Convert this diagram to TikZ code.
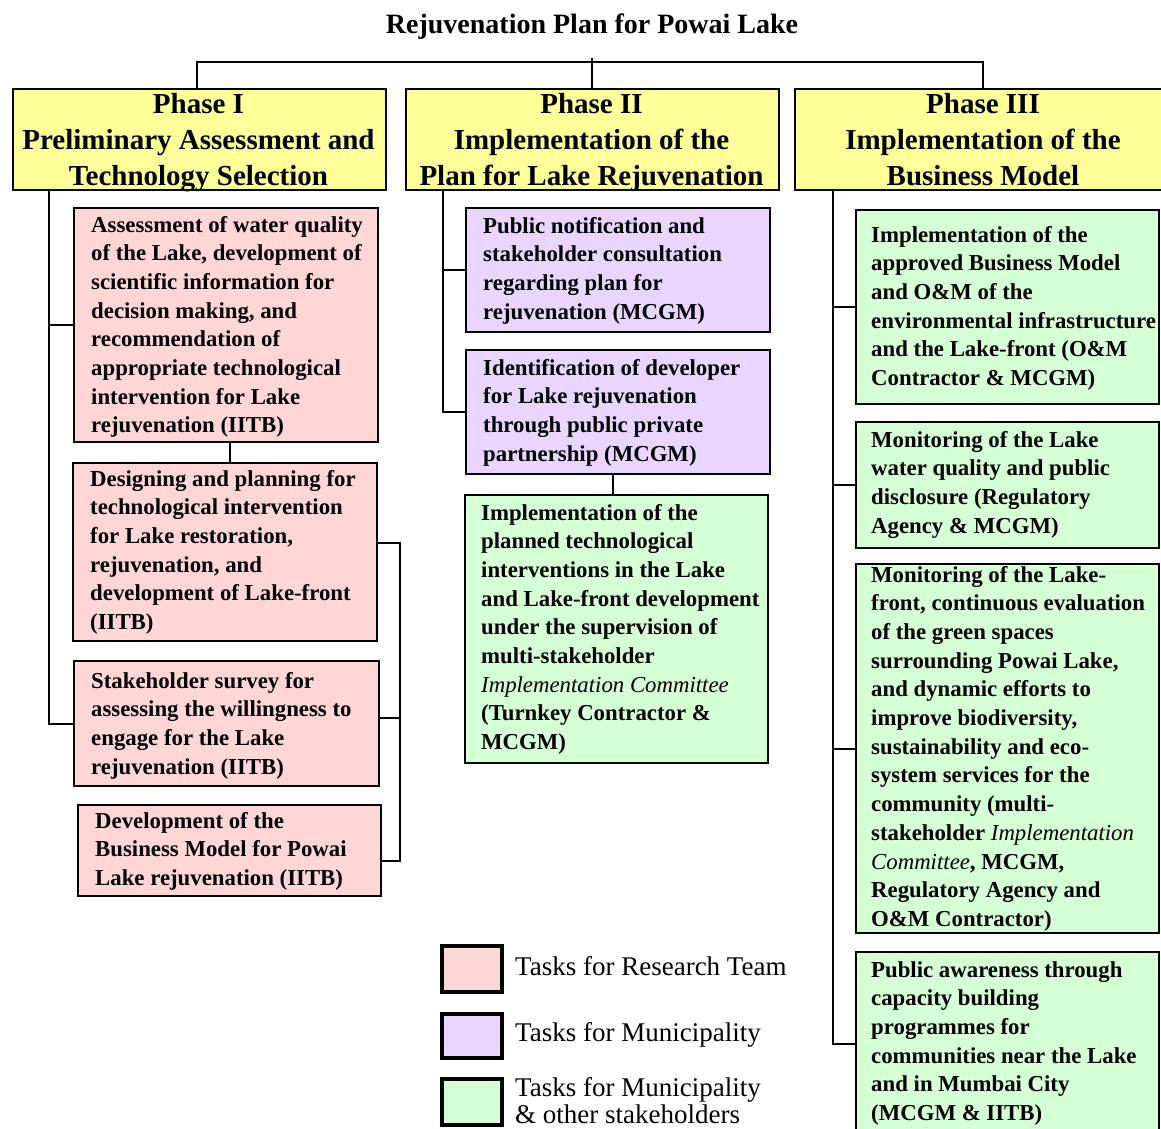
\documentclass[tikz,border=0pt]{standalone}
\usepackage{fontspec}
\setmainfont{Liberation Serif}
\definecolor{pinkc}{HTML}{FFD6D6}
\definecolor{lilacc}{HTML}{E9D5FF}
\definecolor{greenc}{HTML}{D5FFD5}
\definecolor{yellowc}{HTML}{FFFF99}
\tikzset{
  conn/.style={draw=black, line width=2pt},
  phasebox/.style={draw=black, line width=2pt, fill=yellowc, anchor=north west, inner sep=0pt, minimum height=101pt},
  taskbox/.style={draw=black, line width=2pt, anchor=north west, inner sep=0pt},
  legbox/.style={draw=black, line width=4pt, anchor=north west, inner sep=0pt, minimum width=60pt},
  titletext/.style={anchor=base, inner sep=0pt, font=\fontsize{28pt}{34pt}\selectfont\bfseries},
  phasetext/.style={anchor=base, align=center, inner sep=0pt, font=\fontsize{29pt}{36pt}\selectfont\bfseries},
  tasktext/.style={anchor=base west, align=left, inner sep=0pt, font=\fontsize{22.8pt}{28.7pt}\selectfont\bfseries},
  legtext/.style={anchor=base west, align=left, inner sep=0pt, font=\fontsize{27pt}{27.5pt}\selectfont}
}
\begin{document}
\begin{tikzpicture}[x=1pt,y=-1pt]
\useasboundingbox (0,0) rectangle (1161,1128);
\fill[white] (0,0) rectangle (1161,1128);

% title
\node[titletext] (title) at (592,33) {Rejuvenation Plan for Powai Lake};

% phase boxes (text nodes anchored at the baseline of their last line)
\node[phasebox, minimum width=373pt] (ph1) at (12,88) {};
\node[phasebox, minimum width=373pt] (ph2) at (405,88) {};
\node[phasebox, minimum width=367pt] (ph3) at (794,88) {};
\node[phasetext] (ph1t) at (198.5,185) {Phase I\\Preliminary Assessment and\\Technology Selection};
\node[phasetext] (ph2t) at (591.5,185) {Phase II\\Implementation of the\\Plan for Lake Rejuvenation};
\node[phasetext] (ph3t) at (983,185) {Phase III\\Implementation of the\\Business Model};

% Phase I tasks
\node[taskbox, fill=pinkc, minimum width=304pt, minimum height=234pt] (a1) at (73,207) {};
\node[taskbox, fill=pinkc, minimum width=304pt, minimum height=178pt] (a2) at (72,462) {};
\node[taskbox, fill=pinkc, minimum width=305pt, minimum height=125pt] (a3) at (73,660) {};
\node[taskbox, fill=pinkc, minimum width=303pt, minimum height=91pt] (a4) at (77,804) {};
\node[tasktext] (a1t) at (91,432.9) {Assessment of water quality\\of the Lake, development of\\scientific information for\\decision making, and\\recommendation of\\appropriate technological\\intervention for Lake\\rejuvenation (IITB)};
\node[tasktext] (a2t) at (90,629.5) {Designing and planning for\\technological intervention\\for Lake restoration,\\rejuvenation, and\\development of Lake-front\\(IITB)};
\node[tasktext] (a3t) at (91,774.1) {Stakeholder survey for\\assessing the willingness to\\engage for the Lake\\rejuvenation (IITB)};
\node[tasktext] (a4t) at (95,885.4) {Development of the\\Business Model for Powai\\Lake rejuvenation (IITB)};

% Phase II tasks
\node[taskbox, fill=lilacc, minimum width=304pt, minimum height=124pt] (p1) at (465,207) {};
\node[taskbox, fill=lilacc, minimum width=304pt, minimum height=124pt] (p2) at (465,349) {};
\node[taskbox, fill=greenc, minimum width=303pt, minimum height=268pt] (p3) at (464,494) {};
\node[tasktext] (p1t) at (483,319.1) {Public notification and\\stakeholder consultation\\regarding plan for\\rejuvenation (MCGM)};
\node[tasktext] (p2t) at (483,461.1) {Identification of developer\\for Lake rejuvenation\\through public private\\partnership (MCGM)};
\node[tasktext] (p3t) at (481,749.6) {Implementation of the\\planned technological\\interventions in the Lake\\and Lake-front development\\under the supervision of\\multi-stakeholder\\\textmd{\textit{Implementation Committee}}\\(Turnkey Contractor \&\\MCGM)};

% Phase III tasks
\node[taskbox, fill=greenc, minimum width=303pt, minimum height=194pt] (g1) at (855,209) {};
\node[taskbox, fill=greenc, minimum width=303pt, minimum height=126pt] (g2) at (855,421) {};
\node[taskbox, fill=greenc, minimum width=303pt, minimum height=369pt] (g3) at (855,563) {};
\node[taskbox, fill=greenc, minimum width=303pt, minimum height=184pt] (g4) at (855,951) {};
\node[tasktext] (g1t) at (871,385.5) {Implementation of the\\approved Business Model\\and O\&M of the\\environmental infrastructure\\and the Lake-front (O\&M\\Contractor \& MCGM)};
\node[tasktext] (g2t) at (871,533.1) {Monitoring of the Lake\\water quality and public\\disclosure (Regulatory\\Agency \& MCGM)};
\node[tasktext] (g3t) at (871,926.4) {Monitoring of the Lake-\\front, continuous evaluation\\of the green spaces\\surrounding Powai Lake,\\and dynamic efforts to\\improve biodiversity,\\sustainability and eco-\\system services for the\\community (multi-\\stakeholder \textmd{\textit{Implementation}}\\\textmd{\textit{Committee}}, MCGM,\\Regulatory Agency and\\O\&M Contractor)};
\node[tasktext] (g4t) at (871,1120.5) {Public awareness through\\capacity building\\programmes for\\communities near the Lake\\and in Mumbai City\\(MCGM \& IITB)};

% legend
\node[legbox, fill=pinkc, minimum height=46pt] (lg1) at (440,944) {};
\node[legbox, fill=lilacc, minimum height=44pt] (lg2) at (440,1012) {};
\node[legbox, fill=greenc, minimum height=46pt] (lg3) at (440,1077) {};
\node[legtext] (lt1) at (515,975) {Tasks for Research Team};
\node[legtext] (lt2) at (515,1041) {Tasks for Municipality};
\node[legtext] (lt3) at (515,1123.5) {Tasks for Municipality\\\& other stakeholders};

% connectors: title to phases
\coordinate (c1) at (197,62);
\coordinate (c3) at (983,62);
\coordinate (stub) at (592,58);
\draw[conn] (ph1.north -| c1) -- (c1) -- (c3) -- (ph3.north -| c3);
\draw[conn] (stub) -- (ph2.north -| stub);

% Phase I column
\coordinate (v1) at (49,0);
\draw[conn] (ph1.south -| v1) |- (a1.west);
\draw[conn] (ph1.south -| v1) |- (a3.west);
\coordinate (v12) at (230,0);
\draw[conn] (a1.south -| v12) -- (a2.north -| v12);
\coordinate (b2) at (400,543);
\coordinate (b3) at (400,718);
\coordinate (b4) at (400,861);
\draw[conn] (a2.east |- b2) -- (b2) -- (b4) -- (a4.east |- b4);
\draw[conn] (a3.east |- b3) -- (b3);

% Phase II column
\coordinate (v2) at (443,0);
\draw[conn] (ph2.south -| v2) |- (p1.west);
\draw[conn] (ph2.south -| v2) |- (p2.west);
\coordinate (v23) at (613,0);
\draw[conn] (p2.south -| v23) -- (p3.north -| v23);

% Phase III column
\coordinate (v3) at (833,0);
\draw[conn] (ph3.south -| v3) |- (g1.west);
\draw[conn] (ph3.south -| v3) |- (g2.west);
\draw[conn] (ph3.south -| v3) |- (g3.west);
\draw[conn] (ph3.south -| v3) |- (g4.west);
\end{tikzpicture}
\end{document}
